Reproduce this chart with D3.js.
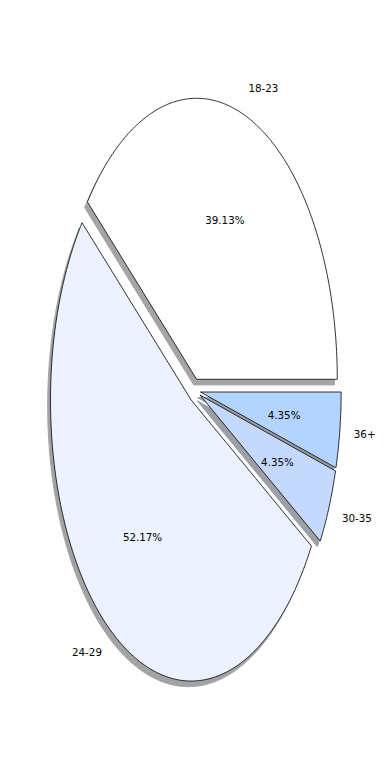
<!DOCTYPE html>
<html>
<head>
<meta charset="utf-8">
<script src="https://cdn.jsdelivr.net/npm/d3@7"></script>
<style>
  html, body { margin: 0; padding: 0; background: #fff; }
  text { font-family: "DejaVu Sans", sans-serif; font-size: 10.3px; fill: #000; }
</style>
</head>
<body>
<svg id="chart" width="390" height="780"></svg>
<script>
// ---- data ----
const ageGroups = ['18-23', '24-29', '30-35', '36+']
const counts = [9, 12, 1, 1]
const sliceColors = ['#ffffff', '#ecf2ff', '#c5d9ff', '#b3d4ff']
const explode = [0.042, 0.042, 0.042, 0.042]

const W = 390, H = 780
const svg = d3.select('#chart')

// data units -> pixels (pie radius is 1, axes not equal so it is stretched)
const x = d3.scaleLinear().domain([-1, 1]).range([194.6 - 140.7, 194.6 + 140.7])
const y = d3.scaleLinear().domain([-1, 1]).range([390.4 + 281, 390.4 - 281])

const total = d3.sum(counts)
// angles counterclockwise from 3 o'clock, like matplotlib
const arcs = d3.pie().sort(null).startAngle(0).endAngle(2 * Math.PI)(counts)

let line = d3.line().x(d => x(d[0])).y(d => y(d[1]))

let wedgePoints = (a, ox, oy) => {
  let cx = ox, cy = oy
  let pts = [[cx, cy]]
  let n = Math.max(8, Math.ceil((a.endAngle - a.startAngle) * 60))
  for (let i = 0; i <= n; i++) {
    let t = a.startAngle + (a.endAngle - a.startAngle) * i / n
    pts.push([cx + Math.cos(t), cy + Math.sin(t)])
  }
  return pts
}

let offsets = arcs.map((a, i) => {
  let m = (a.startAngle + a.endAngle) / 2
  return { m: m, ox: explode[i] * Math.cos(m), oy: explode[i] * Math.sin(m) }
})

// shadows first (they sit below every wedge)
arcs.forEach((a, i) => {
  let c = d3.rgb(sliceColors[i])
  let sc = d3.rgb(c.r * 0.3, c.g * 0.3, c.b * 0.3)
  svg.append('path')
    .attr('d', line(wedgePoints(a, offsets[i].ox - 0.02, offsets[i].oy - 0.02)) + 'Z')
    .attr('fill', sc)
    .attr('stroke', sc)
    .attr('stroke-width', 1)
    .attr('stroke-linejoin', 'round')
    .attr('opacity', 0.5)
})

// wedges
arcs.forEach((a, i) => {
  svg.append('path')
    .attr('d', line(wedgePoints(a, offsets[i].ox, offsets[i].oy)) + 'Z')
    .attr('fill', sliceColors[i])
    .attr('stroke', '#000')
    .attr('stroke-width', 0.8)
    .attr('stroke-linejoin', 'miter')
})

// labels at 1.1, percentages at 0.6
arcs.forEach((a, i) => {
  let o = offsets[i]
  let lx = o.ox + 1.1 * Math.cos(o.m)
  let ly = o.oy + 1.1 * Math.sin(o.m)
  svg.append('text')
    .attr('x', x(lx)).attr('y', y(ly)).attr('dy', '0.36em')
    .attr('text-anchor', lx > 0 ? 'start' : 'end')
    .text(ageGroups[i])

  let px = o.ox + 0.6 * Math.cos(o.m)
  let py = o.oy + 0.6 * Math.sin(o.m)
  svg.append('text')
    .attr('x', x(px)).attr('y', y(py)).attr('dy', '0.36em')
    .attr('text-anchor', 'middle')
    .text((counts[i] / total * 100).toFixed(2) + '%')
})
</script>
</body>
</html>
